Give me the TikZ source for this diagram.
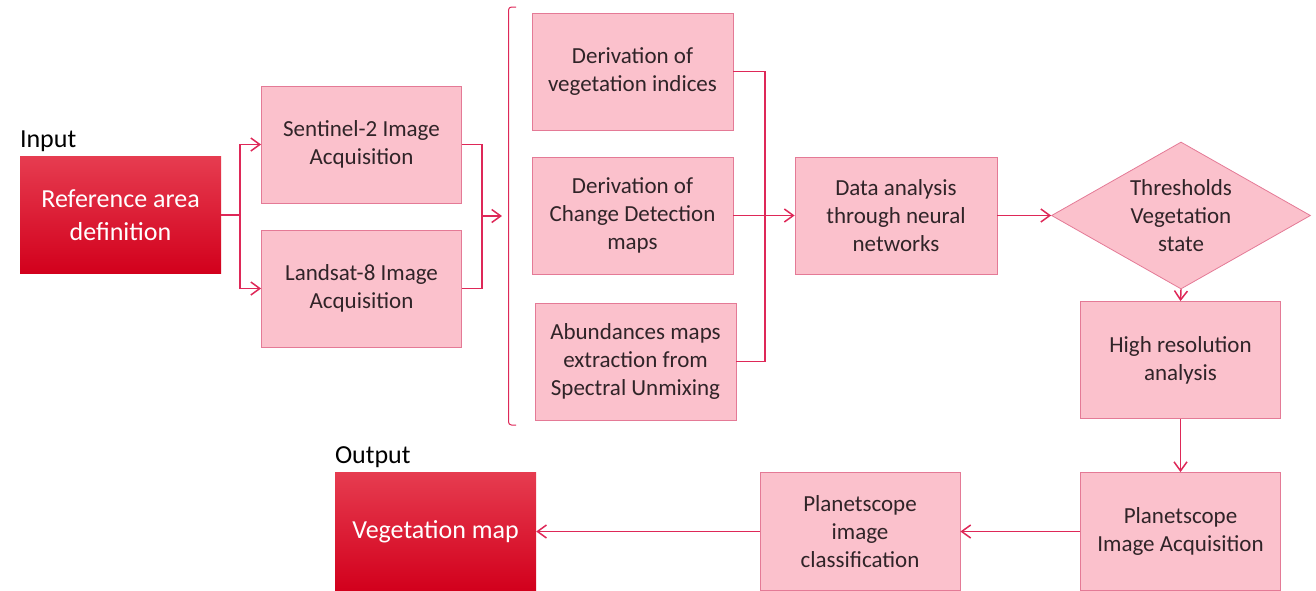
\documentclass[tikz,border=0pt]{standalone}
\usepackage{fontspec}
\setmainfont{Carlito}
\usetikzlibrary{shapes.geometric,arrows.meta}

\definecolor{boxpink}{RGB}{251,193,204}
\definecolor{boxedge}{RGB}{228,122,150}
\definecolor{linkred}{RGB}{222,40,88}
\definecolor{redtop}{RGB}{230,60,80}
\definecolor{redbot}{RGB}{210,0,28}
\definecolor{textdark}{RGB}{48,36,40}

\begin{document}
\begin{tikzpicture}[x=1pt, y=-1pt,
	procbox/.style={draw=boxedge, fill=boxpink, line width=0.8pt, text=textdark, align=center, inner sep=0pt, minimum width=200pt, minimum height=117pt, font=\fontsize{23}{28}\selectfont},
	endbox/.style={top color=redtop, bottom color=redbot, text=white, align=center, inner sep=0pt, minimum width=201pt, minimum height=117pt, font=\fontsize{26}{33}\selectfont},
	flow/.style={draw=linkred, line width=1.5pt},
	>={Straight Barb[length=9pt,width=13pt]}]
	\useasboundingbox (0,0) rectangle (1316,590);

	% Input and the two acquisitions
	\node[endbox] (ref) at (120.5,215) {Reference area\\definition};
	\node[anchor=base west, inner sep=0pt, font=\fontsize{26}{30}\selectfont] (inlbl) at ([yshift=9pt]ref.north west) {Input};
	\node[procbox] (sent) at (361.5,144.5) {Sentinel-2 Image\\Acquisition};
	\node[procbox] (land) at (361.5,288.5) {Landsat-8 Image\\Acquisition};

	% Derived products
	\node[procbox, minimum width=201pt] (vi) at (632.5,71.5) {Derivation of\\vegetation indices};
	\node[procbox, minimum width=201pt] (cd) at (632.5,215.5) {Derivation of\\Change Detection\\maps};
	\node[procbox, minimum width=201pt] (abund) at (635.5,361.5) {Abundances maps\\extraction from\\Spectral Unmixing};

	% Analysis chain
	\node[procbox, minimum width=202pt] (data) at (896,215.5) {Data analysis\\through neural\\networks};
	\node[diamond, aspect=1.76, draw=boxedge, fill=boxpink, line width=0.8pt, text=textdark, align=center, inner sep=0pt, minimum width=259pt, minimum height=147pt, font=\fontsize{23}{28}\selectfont] (thr) at (1181,215.5) {Thresholds\\Vegetation\\state};
	\node[procbox] (hires) at (1180.5,360) {High resolution\\analysis};
	\node[procbox, minimum height=118pt] (pacq) at (1180.5,531.5) {Planetscope\\Image Acquisition};
	\node[procbox, minimum height=118pt] (pcls) at (860,531.5) {Planetscope\\image\\classification};
	\node[endbox, minimum height=118pt] (veg) at (435.5,531.5) {Vegetation map};
	\node[anchor=base west, inner sep=0pt, font=\fontsize{26}{30}\selectfont] (outlbl) at ([yshift=9pt]veg.north west) {Output};

	\coordinate (split) at (240,215);
	\coordinate (merge) at (482,216);
	\coordinate (brk) at (502,216);
	\coordinate (join) at (765,216);

	% Draw the connectors
	\draw[flow] (ref.east) -- (split);
	\draw[flow, ->] (split) |- (sent.west);
	\draw[flow, ->] (split) |- (land.west);
	\draw[flow] (sent.east) -| (merge) |- (land.east);
	\draw[flow, ->] (merge) -- (brk);
	\draw[draw=linkred, line width=1pt, rounded corners=3pt] (516,7) -- (508.5,7) -- (508.5,425) -- (516,425);
	\draw[flow] (vi.east) -| (join) |- (abund.east);
	\draw[flow, ->] (cd.east) -- (data.west);
	\draw[flow, ->] (data.east) -- (thr.west);
	\draw[flow, ->] (thr.south) -- (hires.north);
	\draw[flow, ->] (hires.south) -- (pacq.north);
	\draw[flow, ->] (pacq.west) -- (pcls.east);
	\draw[flow, ->] (pcls.west) -- (veg.east);
\end{tikzpicture}
\end{document}
